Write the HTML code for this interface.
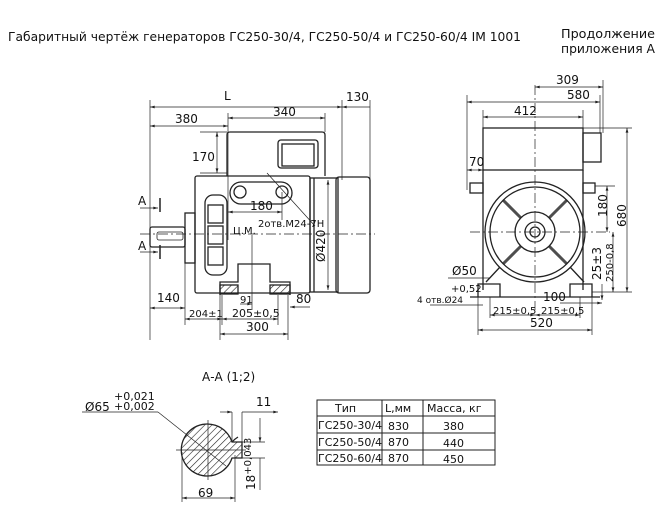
<!DOCTYPE html>
<html><head><meta charset="utf-8"><style>
html,body{margin:0;padding:0;background:#fff;}
svg{display:block;font-family:"DejaVu Sans","Liberation Sans",sans-serif;}
text{fill:#111;}
</style></head><body>
<svg width="667" height="515" viewBox="0 0 667 515" xmlns="http://www.w3.org/2000/svg">
<defs>
<marker id="a" viewBox="0 0 10 6" refX="10" refY="3" markerWidth="7" markerHeight="4" orient="auto-start-reverse"><path d="M0,0L10,3L0,6z" fill="#222"/></marker>
<pattern id="h" width="5" height="5" patternUnits="userSpaceOnUse" patternTransform="rotate(45)"><line x1="0" y1="0" x2="0" y2="5" stroke="#222" stroke-width="1.2"/></pattern>
</defs>
<g font-size="12">
<text x="8" y="41" textLength="513" lengthAdjust="spacingAndGlyphs">Габаритный чертёж генераторов ГС250-30/4, ГС250-50/4 и ГС250-60/4 IM 1001</text>
<text x="561" y="38" textLength="94" lengthAdjust="spacingAndGlyphs">Продолжение</text>
<text x="561" y="53" textLength="94" lengthAdjust="spacingAndGlyphs">приложения А</text>
</g>

<!-- SIDE VIEW -->
<g stroke="#222" fill="none" stroke-width="1.3">
<path d="M227,176 V135 Q227,132 230,132 H322 Q325,132 325,135 V176"/>
<rect x="278" y="140" width="40" height="28" rx="3"/>
<rect x="282" y="144" width="32" height="22"/>
<rect x="195" y="176" width="115" height="117" rx="2"/>
<rect x="310" y="178" width="28" height="114"/>
<rect x="336" y="177" width="34" height="116" rx="3"/>
<line x1="314" y1="178" x2="314" y2="292"/>
<rect x="185" y="213" width="10" height="50"/>
<rect x="150" y="227" width="35" height="20" rx="2"/>
<rect x="157" y="232" width="26" height="8" rx="2" stroke-width="0.8"/>
<rect x="205" y="195" width="22" height="80" rx="8"/>
<rect x="208" y="205" width="15" height="18"/><rect x="208" y="226" width="15" height="18"/><rect x="208" y="247" width="15" height="18"/>
<rect x="230" y="182" width="62" height="22" rx="11"/>
<circle cx="240" cy="192" r="6"/><circle cx="282" cy="192" r="6"/>
<path d="M220,295 V282 H238 V264 H270 V282 H290 V295"/>
<rect x="220" y="285" width="18" height="9" fill="url(#h)"/><rect x="270" y="285" width="20" height="9" fill="url(#h)"/>
</g>
<g stroke="#222" stroke-width="0.7" fill="none">
<line x1="140" y1="234" x2="375" y2="234" stroke-dasharray="10,3,2,3"/>
<line x1="150" y1="100" x2="150" y2="340"/>
<line x1="342" y1="100" x2="342" y2="180"/>
<line x1="370" y1="100" x2="370" y2="180"/>
<line x1="228" y1="113" x2="228" y2="240"/>
<line x1="325" y1="113" x2="325" y2="132"/>
<line x1="185" y1="250" x2="185" y2="325"/>
<line x1="222" y1="295" x2="222" y2="325"/>
<line x1="220" y1="295" x2="220" y2="340"/>
<line x1="288" y1="295" x2="288" y2="340"/>
<line x1="278" y1="295" x2="278" y2="325"/>
<line x1="252" y1="235" x2="252" y2="310"/>
<line x1="282" y1="192" x2="282" y2="220"/>
<line x1="200" y1="132" x2="227" y2="132"/><line x1="200" y1="173" x2="227" y2="173"/>
<line x1="150" y1="107" x2="342" y2="107" marker-start="url(#a)" marker-end="url(#a)"/>
<line x1="342" y1="107" x2="370" y2="107" marker-start="url(#a)"/>
<line x1="150" y1="126" x2="228" y2="126" marker-start="url(#a)" marker-end="url(#a)"/>
<line x1="228" y1="118" x2="325" y2="118" marker-start="url(#a)" marker-end="url(#a)"/>
<line x1="217" y1="132" x2="217" y2="173" marker-start="url(#a)" marker-end="url(#a)"/>
<line x1="228" y1="212" x2="282" y2="212" marker-start="url(#a)" marker-end="url(#a)"/>
<line x1="328" y1="180" x2="328" y2="290" marker-start="url(#a)" marker-end="url(#a)"/>
<line x1="150" y1="308" x2="185" y2="308" marker-start="url(#a)" marker-end="url(#a)"/>
<line x1="185" y1="319" x2="222" y2="319" marker-start="url(#a)" marker-end="url(#a)"/>
<line x1="222" y1="319" x2="278" y2="319" marker-start="url(#a)" marker-end="url(#a)"/>
<line x1="220" y1="334" x2="288" y2="334" marker-start="url(#a)" marker-end="url(#a)"/>
<line x1="240" y1="304" x2="252" y2="304" marker-end="url(#a)"/>
<line x1="310" y1="307" x2="290" y2="307" marker-end="url(#a)"/>
<line x1="267" y1="173" x2="315" y2="226"/>
<line x1="140" y1="208" x2="158" y2="208" marker-end="url(#a)"/><line x1="160" y1="198" x2="160" y2="212" stroke-width="1.5"/>
<line x1="140" y1="252" x2="158" y2="252" marker-end="url(#a)"/><line x1="160" y1="245" x2="160" y2="259" stroke-width="1.5"/>
</g>
<g font-size="12">
<text x="224" y="100">L</text>
<text x="346" y="101">130</text>
<text x="175" y="123">380</text>
<text x="273" y="116">340</text>
<text x="192" y="161">170</text>
<text x="250" y="210">180</text>
<text x="258" y="227" font-size="10">2отв.М24-7Н</text>
<text x="233" y="234" font-size="10">Ц.М.</text>
<text x="138" y="205">А</text><text x="138" y="250">А</text>
<text transform="translate(325,262) rotate(-90)">Ø420</text>
<text x="157" y="302">140</text>
<text x="240" y="303" font-size="10">91</text>
<text x="296" y="303">80</text>
<text x="189" y="317" font-size="10">204±1</text>
<text x="232" y="317" font-size="11">205±0,5</text>
<text x="246" y="331">300</text>
</g>

<!-- END VIEW -->
<g stroke="#222" fill="none" stroke-width="1.3">
<rect x="483" y="128" width="100" height="42"/>
<rect x="583" y="133" width="18" height="29"/>
<path d="M483,170 V290 M583,170 V290"/>
<rect x="470" y="183" width="13" height="10"/><rect x="583" y="183" width="12" height="10"/>
<circle cx="535" cy="232" r="50"/><circle cx="535" cy="232" r="45"/>
<circle cx="535" cy="232" r="20"/><circle cx="535" cy="232" r="10"/><circle cx="535" cy="232" r="5"/>
<path d="M500,267 L486,282 M570,267 L584,282"/>
<path d="M478,297 V284 H500 V297 M570,297 V284 H592 V297"/>
<line x1="470" y1="297" x2="600" y2="297"/>
</g>
<g stroke="#222" stroke-width="3" fill="none" opacity="0.8">
<line x1="503" y1="200" x2="521" y2="218"/><line x1="567" y1="200" x2="549" y2="218"/>
<line x1="503" y1="264" x2="521" y2="246"/><line x1="567" y1="264" x2="549" y2="246"/>
</g>
<g stroke="#222" stroke-width="0.7" fill="none">
<line x1="535" y1="85" x2="535" y2="310" stroke-dasharray="10,3,2,3"/>
<line x1="470" y1="232" x2="610" y2="232" stroke-dasharray="10,3,2,3"/>
<line x1="467" y1="95" x2="467" y2="190"/><line x1="483" y1="110" x2="483" y2="128"/>
<line x1="583" y1="110" x2="583" y2="128"/><line x1="600" y1="95" x2="600" y2="133"/><line x1="603" y1="80" x2="603" y2="133"/>
<line x1="535" y1="87" x2="603" y2="87" marker-start="url(#a)" marker-end="url(#a)"/>
<line x1="467" y1="102" x2="600" y2="102" marker-start="url(#a)" marker-end="url(#a)"/>
<line x1="483" y1="117" x2="583" y2="117" marker-start="url(#a)" marker-end="url(#a)"/>
<line x1="467" y1="170" x2="483" y2="170" marker-start="url(#a)" marker-end="url(#a)"/>
<line x1="583" y1="128" x2="632" y2="128"/><line x1="592" y1="292" x2="632" y2="292"/>
<line x1="627" y1="128" x2="627" y2="292" marker-start="url(#a)" marker-end="url(#a)"/>
<line x1="595" y1="186" x2="615" y2="186"/>
<line x1="607" y1="186" x2="607" y2="232" marker-start="url(#a)" marker-end="url(#a)"/>
<line x1="613" y1="232" x2="613" y2="292" marker-start="url(#a)" marker-end="url(#a)"/>
<line x1="602" y1="284" x2="602" y2="300" marker-end="url(#a)"/>
<line x1="448" y1="278" x2="490" y2="278"/>
<line x1="430" y1="305" x2="483" y2="305"/>
<line x1="490" y1="297" x2="490" y2="318"/><line x1="580" y1="297" x2="580" y2="318"/>
<line x1="478" y1="297" x2="478" y2="335"/><line x1="592" y1="297" x2="592" y2="335"/>
<line x1="490" y1="315" x2="535" y2="315" marker-start="url(#a)" marker-end="url(#a)"/>
<line x1="535" y1="315" x2="580" y2="315" marker-start="url(#a)" marker-end="url(#a)"/>
<line x1="478" y1="330" x2="592" y2="330" marker-start="url(#a)" marker-end="url(#a)"/>
<line x1="560" y1="303" x2="602" y2="303" marker-end="url(#a)"/>
</g>
<g font-size="12">
<text x="556" y="84">309</text>
<text x="567" y="99">580</text>
<text x="514" y="115">412</text>
<text x="469" y="166">70</text>
<text transform="translate(607,217) rotate(-90)">180</text>
<text transform="translate(626,227) rotate(-90)">680</text>
<text transform="translate(601,280) rotate(-90)">25±3</text>
<text transform="translate(613,282) rotate(-90)" font-size="10">250-0,8</text>
<text x="452" y="275">Ø50</text>
<text x="451" y="292" font-size="10">+0,52</text>
<text x="417" y="303" font-size="9">4 отв.Ø24</text>
<text x="543" y="301">100</text>
<text x="493" y="314" font-size="10">215±0,5</text>
<text x="541" y="314" font-size="10">215±0,5</text>
<text x="530" y="327">520</text>
</g>

<!-- SECTION A-A -->
<g font-size="12">
<text x="202" y="381">А-А (1;2)</text>
<text x="85" y="411">Ø65</text>
<text x="114" y="400" font-size="11">+0,021</text>
<text x="114" y="410" font-size="11">+0,002</text>
<text x="256" y="406">11</text>
<text x="198" y="497">69</text>
<text transform="translate(255,490) rotate(-90)">18<tspan font-size="10" dy="-4">+0,043</tspan></text>
</g>
<g stroke="#222" fill="none">
<path d="M232,442 A26,26 0 1 0 232,458 H242 V442 Z" fill="url(#h)" stroke-width="1.3"/>
<path d="M232,442 A26,26 0 0 1 238,437" stroke-width="1.3"/>
<g stroke-width="0.7">
<line x1="176" y1="450" x2="246" y2="450"/><line x1="208" y1="420" x2="208" y2="480"/>
<line x1="82" y1="412" x2="158" y2="412"/><line x1="158" y1="412" x2="226" y2="466"/>
<line x1="182" y1="452" x2="182" y2="502"/><line x1="235" y1="455" x2="235" y2="502"/>
<line x1="182" y1="498" x2="235" y2="498" marker-start="url(#a)" marker-end="url(#a)"/>
<line x1="232" y1="412" x2="232" y2="442"/><line x1="242" y1="412" x2="242" y2="442"/>
<line x1="220" y1="412" x2="232" y2="412" marker-end="url(#a)"/><line x1="278" y1="412" x2="242" y2="412" marker-start="url(#a)"/>
<line x1="242" y1="442" x2="265" y2="442"/><line x1="242" y1="458" x2="265" y2="458"/>
<line x1="260" y1="418" x2="260" y2="442" marker-end="url(#a)"/><line x1="260" y1="458" x2="260" y2="490"/>
</g></g>

<!-- TABLE -->
<g stroke="#222" stroke-width="1" fill="none">
<rect x="317" y="400" width="178" height="65"/>
<line x1="317" y1="416" x2="495" y2="416"/><line x1="317" y1="433" x2="495" y2="433"/><line x1="317" y1="450" x2="495" y2="450"/>
<line x1="382" y1="400" x2="382" y2="465"/><line x1="423" y1="400" x2="423" y2="465"/>
</g>
<g font-size="11">
<text x="335" y="412">Тип</text><text x="385" y="412">L,мм</text><text x="427" y="412">Масса, кг</text>
<text x="318" y="429">ГС250-30/4</text><text x="388" y="430">830</text><text x="443" y="430">380</text>
<text x="318" y="446">ГС250-50/4</text><text x="388" y="446">870</text><text x="443" y="447">440</text>
<text x="318" y="462">ГС250-60/4</text><text x="388" y="462">870</text><text x="443" y="463">450</text>
</g>
</svg>
</body></html>
